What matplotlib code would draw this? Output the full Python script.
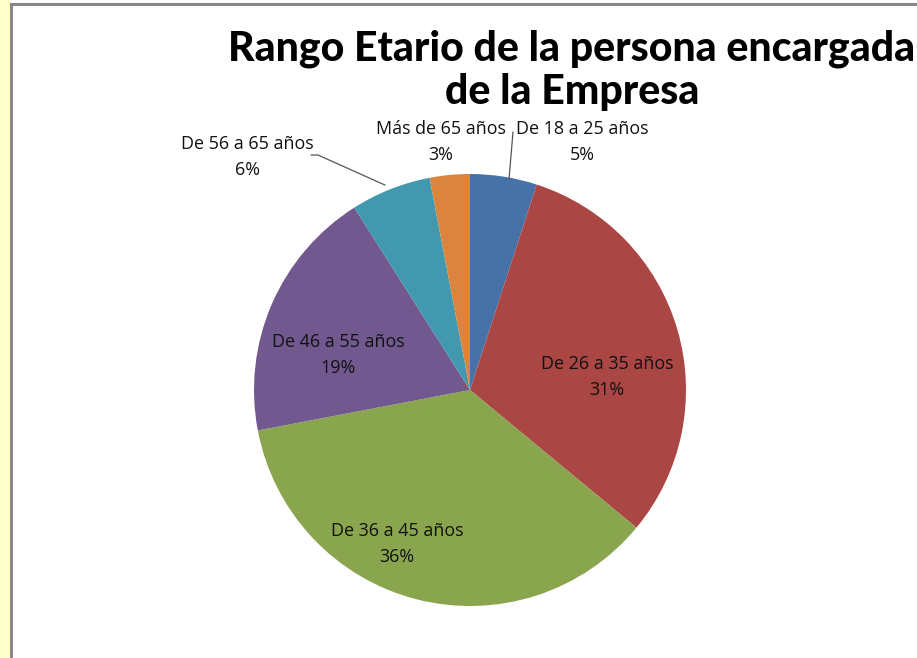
import numpy as np
import matplotlib.pyplot as plt
from matplotlib.patches import Rectangle
from matplotlib.lines import Line2D

# data
categories = ['De 18 a 25 años', 'De 26 a 35 años', 'De 36 a 45 años',
              'De 46 a 55 años', 'De 56 a 65 años', 'Más de 65 años']
shares = [5, 31, 36, 19, 6, 3]
pct_labels = ['5%', '31%', '36%', '19%', '6%', '3%']
colors = ['#4672a8', '#aa4644', '#89a54e', '#71588f', '#4198af', '#db843d']

# label positions (pie radius units)
label_pos = [(0.52, 1.148), (0.634, 0.06), (-0.338, -0.713),
             (-0.611, 0.162), (-1.032, 1.079), (-0.134, 1.148)]

fig = plt.figure(figsize=(9.17, 6.58), dpi=100)

# left margin strip and chart border
fig.patches.append(Rectangle((0, 0), 10 / 917, 1, transform=fig.transFigure,
                             facecolor='#ffffcc', edgecolor='none', zorder=0))
fig.lines.append(Line2D([10.5 / 917, 10.5 / 917], [0, 1 - 4 / 658],
                        transform=fig.transFigure, color='#888888', lw=2.2))
fig.lines.append(Line2D([10.5 / 917, 1], [1 - 4 / 658, 1 - 4 / 658],
                        transform=fig.transFigure, color='#888888', lw=2.2))

ax = fig.add_axes([(470 - 216) / 917, 1 - (390 + 216) / 658, 432 / 917, 432 / 658])
ax.pie(shares, colors=colors, startangle=90, counterclock=False,
       wedgeprops=dict(linewidth=0))
ax.set_xlim(-1, 1)
ax.set_ylim(-1, 1)
ax.axis('off')

for cat, pct, (x, y) in zip(categories, pct_labels, label_pos):
    ax.text(x, y, f'{cat}\n{pct}', ha='center', va='center', fontsize=12.9,
            family='Open Sans', linespacing=1.6, color='#111111', clip_on=False)

# leader lines
ax.plot([0.199, 0.181], [1.194, 0.981], color='#555555', lw=0.9, clip_on=False)
ax.plot([-0.735, -0.704, -0.394], [1.088, 1.088, 0.949], color='#555555',
        lw=0.9, clip_on=False)

fig.text(572 / 917, 1 - 70 / 658, 'Rango Etario de la persona encargada\nde la Empresa',
         ha='center', va='center', fontsize=29.5, fontweight='black', family='Lato',
         linespacing=1.15)

fig.savefig('out.png', dpi=100)
